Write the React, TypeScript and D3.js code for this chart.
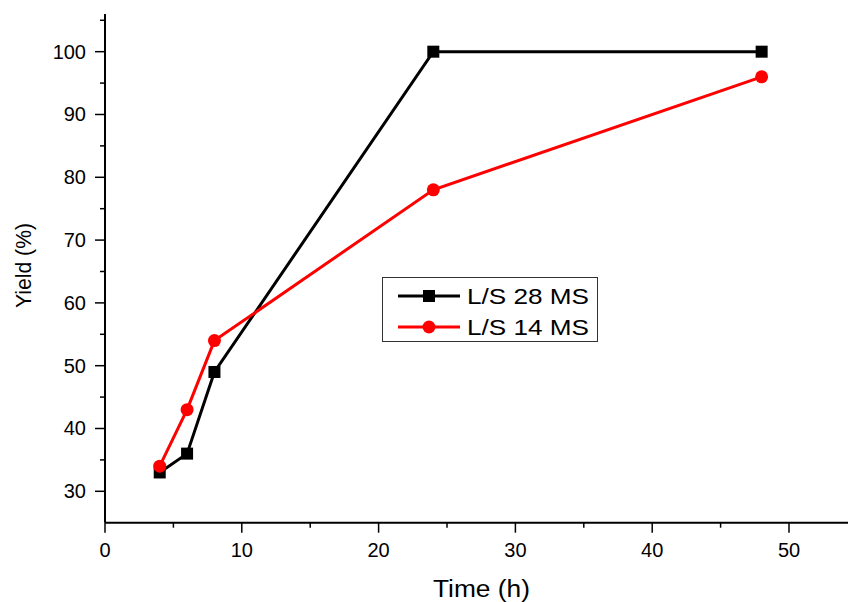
import React from 'react';
import * as d3 from 'd3';

const times = [4, 6, 8, 24, 48];
const ls28 = [33, 36, 49, 100, 100];
const ls14 = [34, 43, 54, 78, 96];
const xTicks = [0, 10, 20, 30, 40, 50];
const yTicks = [30, 40, 50, 60, 70, 80, 90, 100];
const seriesNames = ['L/S 28 MS', 'L/S 14 MS'];

const W = 848, H = 602;
const FONT = '"Liberation Sans", Arial, sans-serif';

export default function App() {
  const x = d3.scaleLinear().domain([0, 55]).range([105, 857.4]);
  const y = d3.scaleLinear().domain([25, 106]).range([522.7, 14]);
  const line = d3.line<number[]>().x(d => x(d[0])).y(d => y(d[1]));
  const black = times.map((t, i) => [t, ls28[i]]);
  const red = times.map((t, i) => [t, ls14[i]]);
  const xMinor = d3.range(5, 55, 10);
  const yMinor = d3.range(35, 106, 10);

  return (
    <svg width={W} height={H} style={{ position: 'absolute', left: 0, top: 0, background: '#fff' }} fontFamily={FONT}>
      {/* axes */}
      <line x1={x(0)} x2={W} y1={y(25)} y2={y(25)} stroke="#000" strokeWidth={2} />
      <line x1={x(0)} x2={x(0)} y1={y(25)} y2={y(106)} stroke="#000" strokeWidth={2} />
      {xTicks.map(t => (
        <g key={'x' + t}>
          <line x1={x(t)} x2={x(t)} y1={y(25)} y2={y(25) + 10} stroke="#000" strokeWidth={1.5} />
          <text x={x(t)} y={557} textAnchor="middle" fontSize={20}>{t}</text>
        </g>
      ))}
      {xMinor.map(t => (
        <line key={'xm' + t} x1={x(t)} x2={x(t)} y1={y(25)} y2={y(25) + 5} stroke="#000" strokeWidth={1.5} />
      ))}
      {yTicks.map(t => (
        <g key={'y' + t}>
          <line x1={x(0) - 10} x2={x(0)} y1={y(t)} y2={y(t)} stroke="#000" strokeWidth={1.5} />
          <text x={86} y={y(t)} dy="0.35em" textAnchor="end" fontSize={20}>{t}</text>
        </g>
      ))}
      {yMinor.map(t => (
        <line key={'ym' + t} x1={x(0) - 5} x2={x(0)} y1={y(t)} y2={y(t)} stroke="#000" strokeWidth={1.5} />
      ))}
      <text x={481.5} y={597} textAnchor="middle" fontSize={23} textLength={97} lengthAdjust="spacingAndGlyphs">Time (h)</text>
      <text transform="translate(31, 265.5) rotate(-90)" textAnchor="middle" fontSize={22} textLength={85} lengthAdjust="spacingAndGlyphs">Yield (%)</text>

      {/* series */}
      <path d={line(black) || ''} fill="none" stroke="#000" strokeWidth={3} />
      {black.map((d, i) => (
        <rect key={'b' + i} x={x(d[0]) - 6} y={y(d[1]) - 6} width={12} height={12} fill="#000" />
      ))}
      <path d={line(red) || ''} fill="none" stroke="#f00" strokeWidth={3} />
      {red.map((d, i) => (
        <circle key={'r' + i} cx={x(d[0])} cy={y(d[1])} r={6.5} fill="#f00" />
      ))}

      {/* legend */}
      <rect x={382.5} y={277.5} width={215} height={64} fill="#fff" stroke="#333" strokeWidth={1} />
      <line x1={398} x2={460} y1={296} y2={296} stroke="#000" strokeWidth={3} />
      <rect x={423} y={290} width={12} height={12} fill="#000" />
      <text x={467} y={296} dy="0.36em" fontSize={22} textLength={122} lengthAdjust="spacingAndGlyphs">{seriesNames[0]}</text>
      <line x1={398} x2={460} y1={327} y2={327} stroke="#f00" strokeWidth={3} />
      <circle cx={429} cy={327} r={6.5} fill="#f00" />
      <text x={467} y={327} dy="0.36em" fontSize={22} textLength={122} lengthAdjust="spacingAndGlyphs">{seriesNames[1]}</text>
    </svg>
  );
}
